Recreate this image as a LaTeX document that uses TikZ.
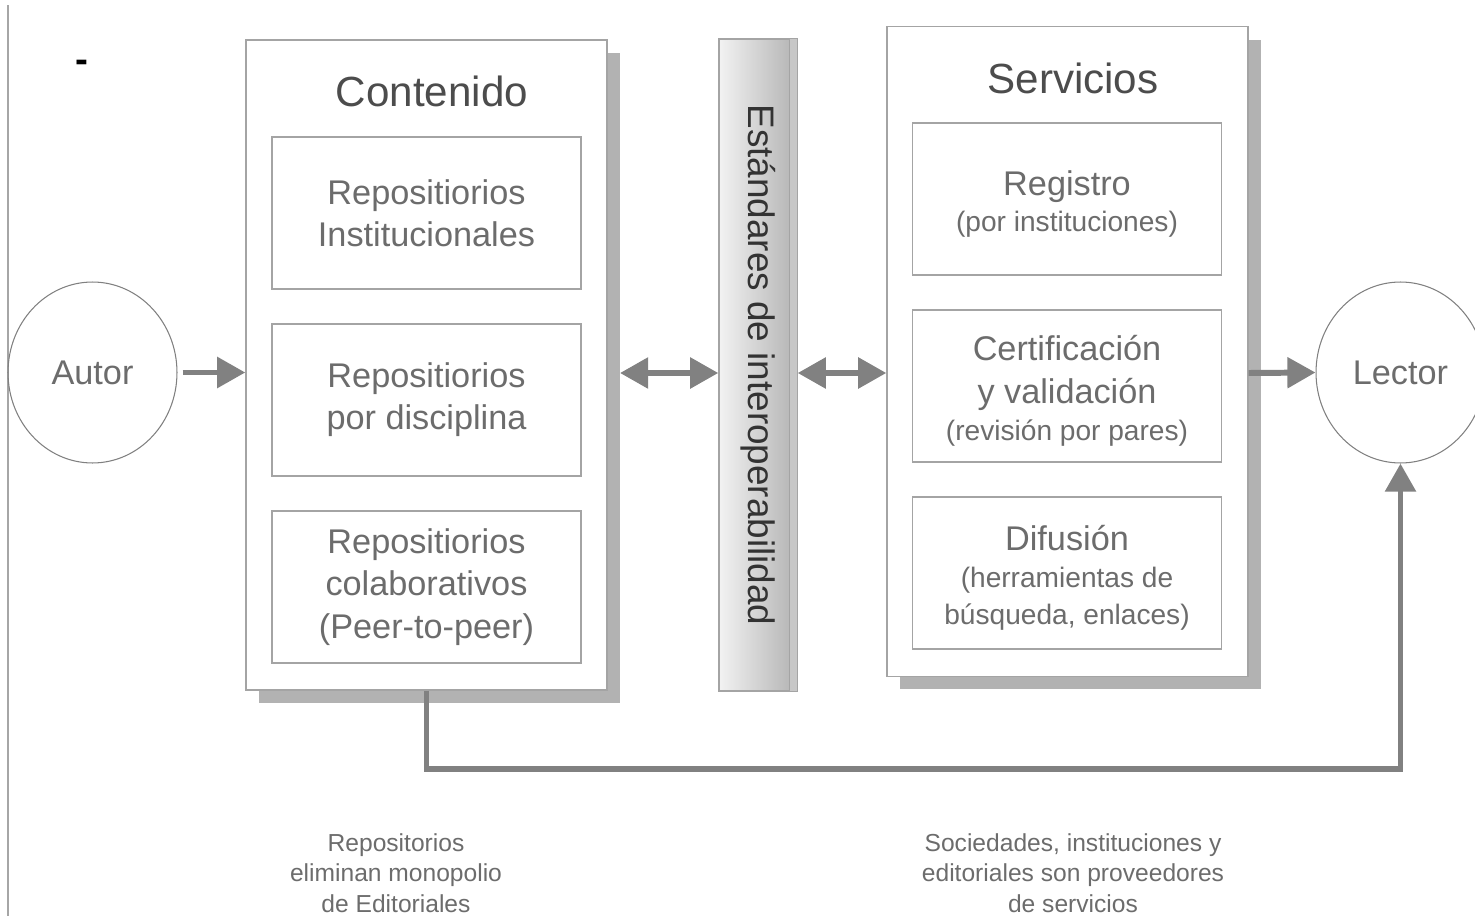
\documentclass[tikz,border=0pt]{standalone}
\usepackage{fontspec}
\setmainfont{Liberation Sans}
\usetikzlibrary{arrows.meta,shadows,shapes.geometric}

\definecolor{gristexto}{HTML}{6C6C6C}
\definecolor{gristitulo}{HTML}{4C4C4C}
\definecolor{grisborde}{HTML}{A4A4A4}
\definecolor{grissombra}{HTML}{B2B2B2}
\definecolor{grisflecha}{HTML}{818181}

\tikzset{
  caja/.style={draw=grisborde, line width=0.8pt, fill=white, minimum width=7.22cm, minimum height=13cm, inner sep=0pt},
  sombra/.style={drop shadow={shadow xshift=0.26cm, shadow yshift=-0.26cm, fill=grissombra, opacity=1}},
  interior/.style={draw=grisborde, line width=0.8pt, fill=white, minimum width=6.18cm, minimum height=3.04cm,
    align=center, text=gristexto, font=\fontsize{19.5}{24}\selectfont},
  titulo/.style={anchor=base, text=gristitulo, font=\fontsize{24}{28}\selectfont},
  circulo/.style={ellipse, draw=gray, line width=0.6pt, minimum width=3.38cm, minimum height=3.62cm,
    inner sep=0pt, text=gristexto, font=\fontsize{19.5}{24}\selectfont},
  flecha/.style={draw=grisflecha, line width=3.4pt, -{Triangle[width=17pt,length=16pt]}},
  flechadoble/.style={draw=grisflecha, line width=3.4pt, {Triangle[width=17pt,length=16pt]}-{Triangle[width=17pt,length=16pt]}},
  nota/.style={align=center, text=gristexto, font=\fontsize{14}{17.3}\selectfont}
}
\newcommand{\chico}{\fontsize{16}{20}\selectfont}

\begin{document}
\begin{tikzpicture}[x=0.02cm, y=-0.02cm]
        \useasboundingbox (0,0) rectangle (1475,916);

        % Linea del margen y guion
        \draw[black!35, line width=1pt] (8,5) -- (8,916);
        \node[font=\fontsize{22}{26}\selectfont\bfseries] (guion) at (82,66) {-};

        % Caja de contenido
        \node[caja, sombra] (contenido) at (426.5,365) {};
        \node[titulo] (tcont) at (432,106) {Contenido};
        \node[interior] (inst) at (426.5,213) {Repositiorios\\Institucionales};
        \node[interior] (disc) at (426.5,400) {Repositiorios\\por disciplina};
        \node[interior] (colab) at (426.5,587) {Repositiorios\\colaborativos\\(Peer-to-peer)};

        % Barra de estandares
        \node[draw=grisborde, line width=0.8pt, left color=black!5, right color=black!30,
          minimum width=1.56cm, minimum height=13.04cm, inner sep=0pt] (barra) at (758,365) {};
        \fill[black!22] ([xshift=-0.16cm]barra.north east) rectangle (barra.south east);
        \draw[grisborde, line width=0.6pt] ([xshift=-0.16cm]barra.north east) -- ([xshift=-0.16cm]barra.south east);
        \draw[grisborde, line width=0.8pt] (barra.north west) rectangle (barra.south east);
        \node[rotate=-90, text=black!80, font=\fontsize{21}{25}\selectfont] (estandares) at (barra.center) {Estándares de interoperabilidad};

        % Caja de servicios
        \node[caja, sombra] (servicios) at (1067.5,351.5) {};
        \node[titulo] (tserv) at (1073,93) {Servicios};
        \node[interior] (registro) at (1067,199) {\rule{0pt}{20pt}Registro\\[-0.12cm]{\chico (por instituciones)}};
        \node[interior] (certif) at (1067,386) {\rule{0pt}{20pt}Certificación\\y validación\\[-0.1cm]{\chico (revisión por pares)}};
        \node[interior] (difusion) at (1067,573) {\rule{0pt}{20pt}Difusión\\[-0.12cm]{\chico (herramientas de}\\[-0.1cm]{\chico búsqueda, enlaces)}};

        % Autor y lector
        \node[circulo] (autor) at (92.5,372.5) {Autor};
        \node[circulo] (lector) at (1400.5,372.5) {Lector};

        % Flechas
        \coordinate (sombraC) at (620,373);
        \draw[flecha, shorten <=0.1cm] (autor.east) -- (autor.east -| contenido.west);
        \draw[flechadoble] (sombraC) -- (sombraC -| barra.west);
        \draw[flechadoble] (sombraC -| barra.east) -- (sombraC -| servicios.west);
        \draw[flecha] (sombraC -| servicios.east) -- (lector.west);
        \draw[flecha] (contenido.south) -- ++(0,78) -| (lector.south);

        % Notas al pie
        \node[nota] (nota1) at (396,873) {Repositorios\\eliminan monopolio\\de Editoriales};
        \node[nota] (nota2) at (1073,873) {Sociedades, instituciones y\\editoriales son proveedores\\de servicios};
    \end{tikzpicture}
\end{document}
